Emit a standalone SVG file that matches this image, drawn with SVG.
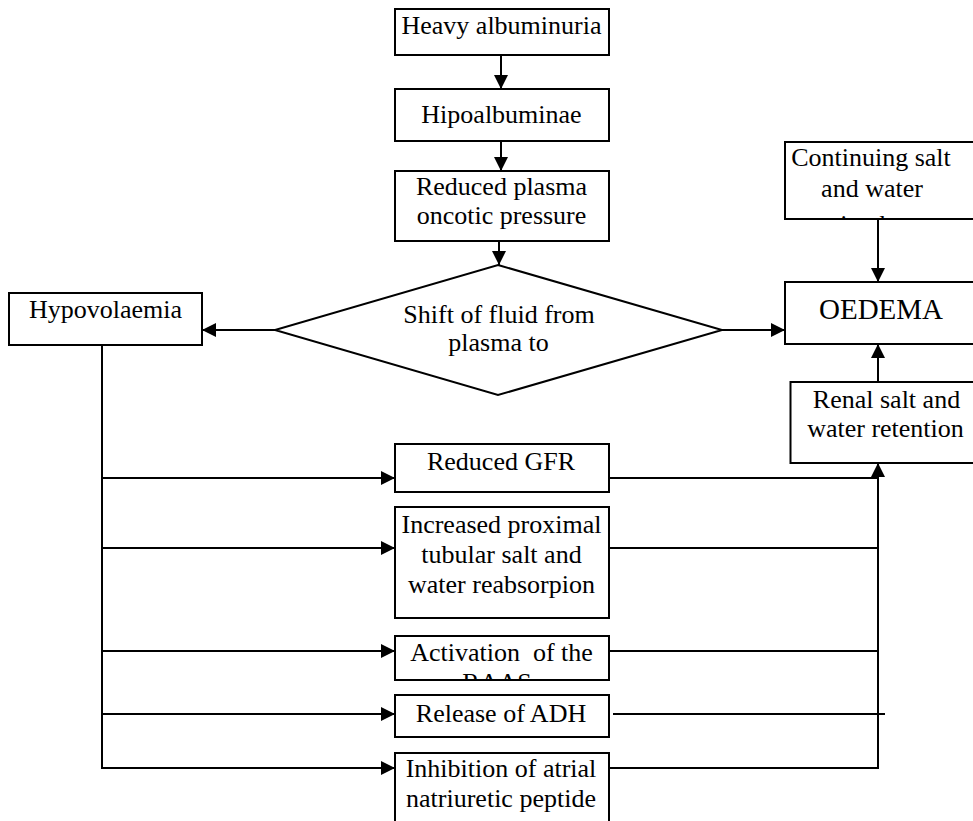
<svg xmlns="http://www.w3.org/2000/svg" width="973" height="821" viewBox="0 0 973 821">
<style>
.box{fill:#fff;stroke:#000;stroke-width:2}
.t{font-family:"Liberation Serif","Times New Roman",serif;font-size:26px;fill:#000;text-anchor:middle;white-space:pre}
.big{font-size:29px}
.ln{fill:none;stroke:#000;stroke-width:2}
</style>
<defs>
<marker id="ah" markerUnits="userSpaceOnUse" markerWidth="14" markerHeight="14" refX="14" refY="7" orient="auto">
<path d="M0,0 L14,7 L0,14 z" fill="#000"/>
</marker>
<clipPath id="cpAct"><rect x="395" y="636" width="214" height="44"/></clipPath>
<clipPath id="cpCont"><rect x="785" y="142" width="200" height="77"/></clipPath>
</defs>
<rect width="973" height="821" fill="#fff"/>

<g id="connectors">
<line class="ln" x1="501" y1="55" x2="501" y2="89" marker-end="url(#ah)"/>
<line class="ln" x1="501" y1="141" x2="501" y2="171" marker-end="url(#ah)"/>
<line class="ln" x1="499" y1="241" x2="499" y2="265" marker-end="url(#ah)"/>
<line class="ln" x1="275" y1="330" x2="202" y2="330" marker-end="url(#ah)"/>
<line class="ln" x1="722" y1="330" x2="785" y2="330" marker-end="url(#ah)"/>
<line class="ln" x1="878" y1="219" x2="878" y2="282" marker-end="url(#ah)"/>
<line class="ln" x1="878" y1="382" x2="878" y2="344" marker-end="url(#ah)"/>
<line class="ln" x1="102" y1="345" x2="102" y2="768"/>
<line class="ln" x1="102" y1="478" x2="395" y2="478" marker-end="url(#ah)"/>
<line class="ln" x1="102" y1="548" x2="395" y2="548" marker-end="url(#ah)"/>
<line class="ln" x1="102" y1="651" x2="395" y2="651" marker-end="url(#ah)"/>
<line class="ln" x1="102" y1="714" x2="395" y2="714" marker-end="url(#ah)"/>
<line class="ln" x1="101" y1="768" x2="395" y2="768" marker-end="url(#ah)"/>
<line class="ln" x1="609" y1="478" x2="878" y2="478"/>
<line class="ln" x1="609" y1="548" x2="878" y2="548"/>
<line class="ln" x1="609" y1="651" x2="878" y2="651"/>
<line class="ln" x1="613" y1="714" x2="885" y2="714"/>
<polyline class="ln" points="609,768 878,768 878,463" marker-end="url(#ah)"/>
</g>

<g id="heavy-albuminuria">
<rect class="box" x="395" y="9" width="214" height="46"/>
<text class="t" x="501.5" y="34">Heavy albuminuria</text>
</g>
<g id="hipoalbuminae">
<rect class="box" x="395" y="89" width="214" height="52"/>
<text class="t" x="501.5" y="123">Hipoalbuminae</text>
</g>
<g id="reduced-plasma">
<rect class="box" x="395" y="171" width="214" height="70"/>
<text class="t" x="501.5" y="195">Reduced plasma</text>
<text class="t" x="501.5" y="224">oncotic pressure</text>
</g>
<g id="shift-of-fluid">
<polygon points="498,265 722,330 498,395 275,330" fill="#fff" stroke="#000" stroke-width="2"/>
<text class="t" x="499" y="323">Shift of fluid from</text>
<text class="t" x="498.5" y="351">plasma to</text>
</g>
<g id="hypovolaemia">
<rect class="box" x="9" y="293" width="193" height="52"/>
<text class="t" x="105.5" y="318">Hypovolaemia</text>
</g>
<g id="continuing-intake">
<rect class="box" x="785" y="142" width="200" height="77"/>
<g clip-path="url(#cpCont)">
<text class="t" x="871" y="166">Continuing salt</text>
<text class="t" x="872" y="197">and water</text>
<text class="t" x="872" y="233">intake</text>
</g>
</g>
<g id="oedema">
<rect class="box" x="785" y="282" width="200" height="62"/>
<text class="t big" x="881" y="319">OEDEMA</text>
</g>
<g id="renal-retention">
<rect class="box" x="790.5" y="382" width="200" height="81"/>
<text class="t" x="886.5" y="408">Renal salt and</text>
<text class="t" x="885.5" y="437">water retention</text>
</g>
<g id="reduced-gfr">
<rect class="box" x="395" y="444" width="214" height="48"/>
<text class="t" x="501" y="470">Reduced GFR</text>
</g>
<g id="increased-proximal">
<rect class="box" x="395" y="507" width="214" height="111"/>
<text class="t" x="501.5" y="533">Increased proximal</text>
<text class="t" x="501.5" y="563">tubular salt and</text>
<text class="t" x="501.5" y="593">water reabsorpion</text>
</g>
<g id="activation-raas">
<rect class="box" x="395" y="636" width="214" height="44"/>
<g clip-path="url(#cpAct)">
<text class="t" x="501.5" y="661">Activation  of the</text>
<text class="t" x="497" y="691">RAAS</text>
</g>
</g>
<g id="release-adh">
<rect class="box" x="395" y="695" width="214" height="42"/>
<text class="t" x="501" y="722">Release of ADH</text>
</g>
<g id="inhibition-anp">
<rect class="box" x="395" y="753" width="214" height="90"/>
<text class="t" x="501" y="777">Inhibition of atrial</text>
<text class="t" x="501" y="807">natriuretic peptide</text>
</g>
</svg>
